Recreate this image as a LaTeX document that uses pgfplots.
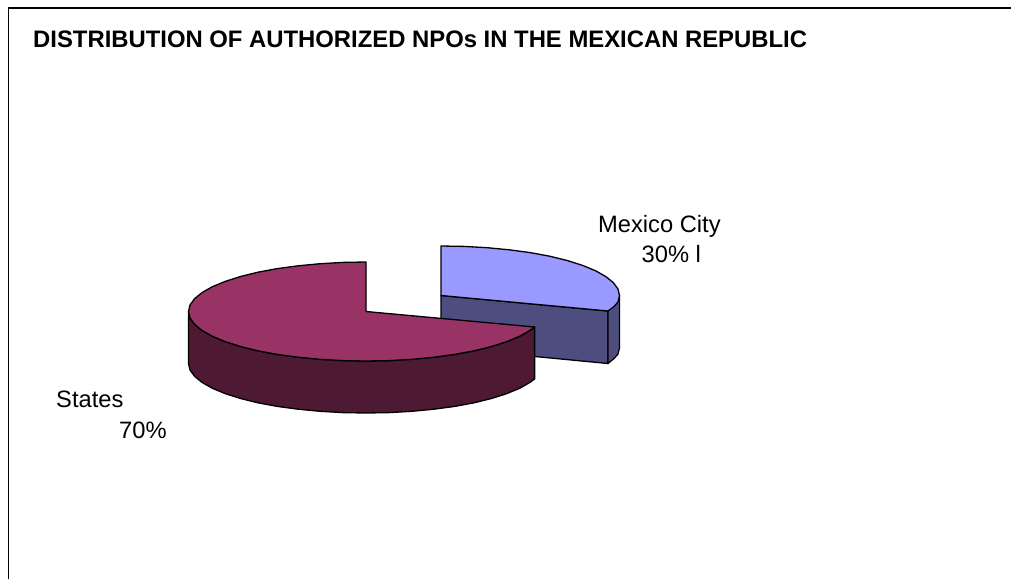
\documentclass[border=0pt]{standalone}
\usepackage{pgfplots}
\pgfplotsset{compat=1.18}
\usepackage{fontspec}
\setmainfont{Liberation Sans}
\definecolor{maroontop}{HTML}{993366}
\definecolor{maroonside}{HTML}{4D1933}
\definecolor{bluetop}{HTML}{9999FF}
\definecolor{blueside}{HTML}{4D4D80}
\begin{document}
\begin{tikzpicture}[x=1pt,y=1pt]
\path[use as bounding box] (0,0) rectangle (1011,579);
\begin{axis}[
	at={(0,0)}, anchor=south west,
	scale only axis, width=1011pt, height=579pt,
	xmin=0, xmax=1011, ymin=0, ymax=579,
	y dir=reverse, hide axis, clip=true,
	every axis plot/.append style={line width=1.3pt, line join=round},
]
% frame: only left and top edges are inside the picture
\addplot[black, line width=1.3pt] coordinates {(8.5,579) (8.5,8) (1011,8)};

% Mexico City slice
\addplot[draw=black, fill=blueside] coordinates {
	(441,295.5) (608,311) (608,363.5) (441,347.5)
} -- cycle;
\addplot[draw=black, fill=blueside] coordinates {
	(608,311) (619.5,295.5) (619.5,348) (618,354) (614,358.5) (608,363.5)
} -- cycle;
\addplot[draw=black, fill=bluetop] coordinates {
	(441,295.5) (441,246) (464.3,246.4) (487.2,247.7) (509.3,249.8) (530.2,252.6)
	(549.7,256.2) (567.2,260.5) (582.6,265.4) (595.6,270.75) (605.9,276.6)
	(613.4,282.7) (618,289) (619.5,295.5) (618,302) (614,306.5) (608,311)
} -- cycle;

% States slice
\addplot[draw=black, fill=maroonside] coordinates {
	(188.5,311.5) (190,318) (194.6,324.3) (202,330.4) (212.3,336.25) (225.2,341.6)
	(240.5,346.5) (257.9,350.8) (277.25,354.4) (298.1,357.2) (320.1,359.3)
	(342.8,360.6) (366,361) (389.2,360.6) (411.9,359.3) (433.9,357.2)
	(454.75,354.4) (474.1,350.8) (491.5,346.5) (506.8,341.6) (519.7,336.25)
	(530,330.4) (534.6,327)
	(534.6,379) (530,382.4) (519.7,388.25) (506.8,393.6) (491.5,398.5)
	(474.1,402.8) (454.75,406.4) (433.9,409.2) (411.9,411.3) (389.2,412.6)
	(366,413) (342.8,412.6) (320.1,411.3) (298.1,409.2) (277.25,406.4)
	(257.9,402.8) (240.5,398.5) (225.2,393.6) (212.3,388.25) (202,382.4)
	(194.6,376.3) (190,370) (188.5,363.5)
} -- cycle;
\addplot[draw=black, fill=maroontop] coordinates {
	(366,311.5) (366,262) (342.8,262.4) (320.1,263.7) (298.1,265.8) (277.25,268.6)
	(257.9,272.2) (240.5,276.5) (225.2,281.4) (212.3,286.75) (202,292.6)
	(194.6,298.7) (190,305) (188.5,311.5) (190,318) (194.6,324.3) (202,330.4)
	(212.3,336.25) (225.2,341.6) (240.5,346.5) (257.9,350.8) (277.25,354.4)
	(298.1,357.2) (320.1,359.3) (342.8,360.6) (366,361) (389.2,360.6)
	(411.9,359.3) (433.9,357.2) (454.75,354.4) (474.1,350.8) (491.5,346.5)
	(506.8,341.6) (519.7,336.25) (530,330.4) (534.6,327)
} -- cycle;

\node[anchor=base west, inner sep=0pt] at (axis cs:33,47.5)
	{\fontsize{23.85}{27}\selectfont\bfseries DISTRIBUTION OF AUTHORIZED NPOs IN THE MEXICAN REPUBLIC};
\node[anchor=base west, inner sep=0pt] at (axis cs:598,232) {\fontsize{23.7}{28}\selectfont Mexico City};
\node[anchor=base west, inner sep=0pt] at (axis cs:641.5,262.5) {\fontsize{23.7}{28}\selectfont 30\% l};
\node[anchor=base west, inner sep=0pt] at (axis cs:56,407) {\fontsize{23.7}{28}\selectfont States};
\node[anchor=base west, inner sep=0pt] at (axis cs:119,438.5) {\fontsize{23.7}{28}\selectfont 70\%};
\end{axis}
\end{tikzpicture}
\end{document}
